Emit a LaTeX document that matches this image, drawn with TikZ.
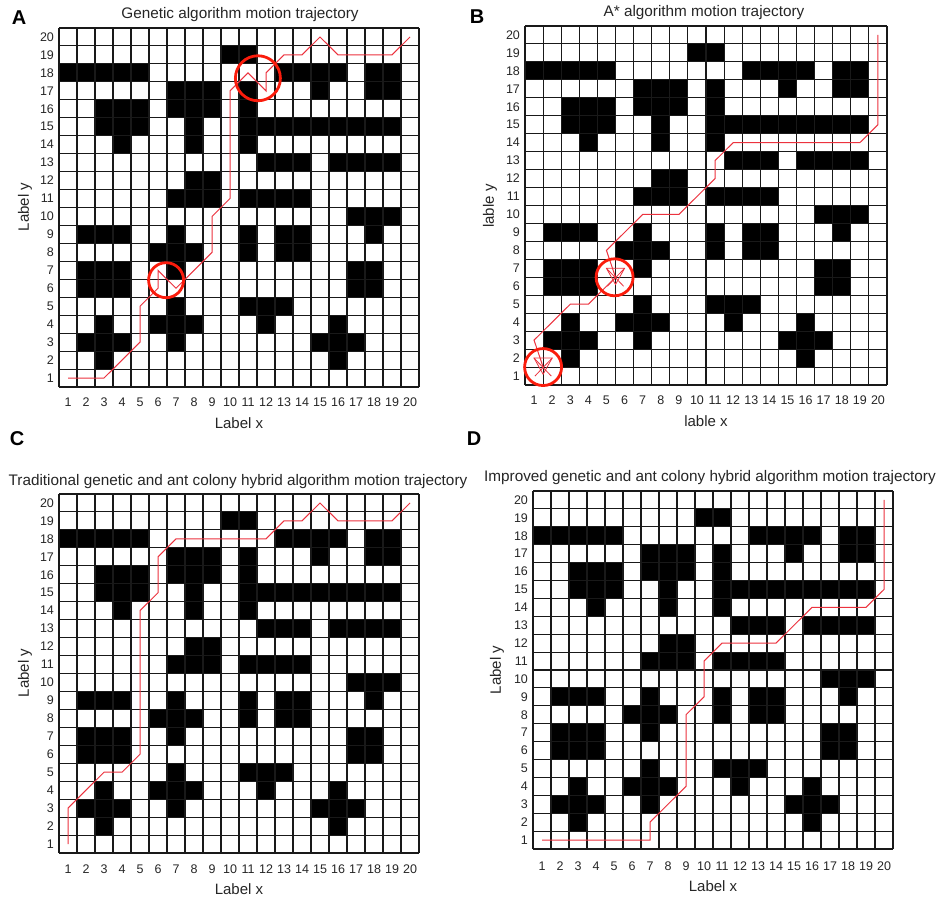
\documentclass[tikz,border=0pt]{standalone}
\usepackage{fontspec}
\setmainfont{Liberation Sans}
\definecolor{txt}{RGB}{38,38,38}
\definecolor{trjred}{RGB}{236,50,62}
\definecolor{circred}{RGB}{250,28,12}
\tikzset{
  gl/.style={line width=1.05pt, draw=black!90},
  trj/.style={line width=1pt, draw=trjred, line join=miter},
  mark circ/.style={line width=2.8pt, draw=circred},
  ticklab/.style={font=\fontsize{12.5}{12.5}\selectfont, text=txt, inner sep=0pt},
  ttl/.style={font=\fontsize{15.3}{16}\selectfont, text=txt, inner sep=0pt},
  axlab/.style={font=\fontsize{15}{15}\selectfont, text=txt, inner sep=0pt},
  plet/.style={font=\fontsize{20}{20}\selectfont\bfseries, text=black, inner sep=0pt},
  starmk/.style={line width=0.8pt, draw=trjred}
}
\newcommand\drawmap{%
  \foreach \r/\a/\b in {19/10/11, 18/1/5, 18/13/16, 18/18/19, 17/7/9, 17/11/11, 17/15/15, 17/18/19,
    16/3/5, 16/7/9, 16/11/11, 15/3/5, 15/8/8, 15/11/19, 14/4/4, 14/8/8, 14/11/11,
    13/12/14, 13/16/19, 12/8/9, 11/7/9, 11/11/14, 10/17/19,
    9/2/4, 9/7/7, 9/11/11, 9/13/14, 9/18/18, 8/6/8, 8/11/11, 8/13/14,
    7/2/4, 7/7/7, 7/17/18, 6/2/4, 6/17/18, 5/7/7, 5/11/13,
    4/3/3, 4/6/8, 4/12/12, 4/16/16, 3/2/4, 3/7/7, 3/15/17, 2/3/3, 2/16/16}
    {\fill[black] (\a-1,\r-1) rectangle (\b,\r);}
  \foreach \i in {0,...,20} {\draw[gl] (\i,0) -- (\i,20); \draw[gl] (0,\i) -- (20,\i);}
}
\newcommand\drawticks[2]{% #1 y-tick x offset, #2 x-tick y offset
  \foreach \i in {1,...,20} {
    \node[ticklab, anchor=east] (yt\i) at (#1, \i-0.5) {\i};
    \node[ticklab] (xt\i) at (\i-0.5, #2) {\i};
  }
}
\newcommand\mystar[1]{%
  \begin{scope}[shift={#1}]
    \draw[starmk] (-0.5,0.45) -- (0.5,0.45) -- (0,-0.45) -- cycle;
    \draw[starmk] (-0.5,0.45) -- (0.45,-0.55) (0.5,0.45) -- (-0.45,-0.55);
  \end{scope}
}
\begin{document}
\begin{tikzpicture}[x=1pt, y=-1pt]
\useasboundingbox (0,0) rectangle (948,899);
\fill[white] (0,0) rectangle (948,899);

% ---------- Panel A ----------
\node[plet] (la) at (19,18) {A};
\node[ttl] (ta) at (240,15) {Genetic algorithm motion trajectory};
\begin{scope}[shift={(59,387)}, x=18pt, y=17.95pt]
  \drawmap
  \drawticks{-0.27}{-0.85}
  \begin{scope}[shift={(-0.5,-0.5)}]
    \draw[trj] (1,1) -- (3,1) -- (5,3) -- (5,5) -- (6,6) -- (6,7) -- (7,6) -- (9,8) -- (9,10)
      -- (10,11) -- (10,17) -- (11,18) -- (12,17) -- (12,18) -- (13,19) -- (14,19) -- (15,20)
      -- (16,19) -- (19,19) -- (20,20);
    \draw[mark circ] (11.55,17.7) circle[radius=22.5pt];
    \draw[mark circ] (6.45,6.45) circle[radius=17.5pt];
  \end{scope}
\end{scope}
\node[axlab] (xa) at (239,423) {Label x};
\node[axlab, rotate=90] (ya) at (25,207) {Label y};

% ---------- Panel B ----------
\node[plet] (lb) at (477,17) {B};
\node[ttl] (tb) at (704,13) {A* algorithm motion trajectory};
\begin{scope}[shift={(525,385)}, x=18.1pt, y=17.95pt]
  \drawmap
  \drawticks{-0.27}{-0.85}
  \begin{scope}[shift={(-0.5,-0.5)}]
    \draw[trj] (1.5,1.5) -- (1,3) -- (3,5) -- (4,5) -- (5.5,6.5) -- (5,8) -- (7,10) -- (9,10)
      -- (11,12) -- (11,13) -- (12,14) -- (19,14) -- (20,15) -- (20,20);
    \mystar{(1.5,1.55)}
    \mystar{(5.5,6.55)}
    \draw[mark circ] (1.5,1.5) circle[radius=18.5pt];
    \draw[mark circ] (5.45,6.5) circle[radius=18.5pt];
  \end{scope}
\end{scope}
\node[axlab] (xb) at (706,421) {lable x};
\node[axlab, rotate=90] (yb) at (490,206) {lable y};

% ---------- Panel C ----------
\node[plet] (lc) at (17,439) {C};
\node[ttl] (tc) at (238,482) {Traditional genetic and ant colony hybrid algorithm motion trajectory};
\begin{scope}[shift={(59,853)}, x=18pt, y=17.95pt]
  \drawmap
  \drawticks{-0.27}{-0.9}
  \begin{scope}[shift={(-0.5,-0.5)}]
    \draw[trj] (1,1) -- (1,3) -- (3,5) -- (4,5) -- (5,6) -- (5,14) -- (6,15) -- (6,17) -- (7,18)
      -- (12,18) -- (13,19) -- (14,19) -- (15,20) -- (16,19) -- (19,19) -- (20,20);
  \end{scope}
\end{scope}
\node[axlab] (xc) at (239,889) {Label x};
\node[axlab, rotate=90] (yc) at (25,673) {Label y};

% ---------- Panel D ----------
\node[plet] (ld) at (474,439) {D};
\node[ttl] (td) at (710,478) {Improved genetic and ant colony hybrid algorithm motion trajectory};
\begin{scope}[shift={(533,849)}, x=18pt, y=17.9pt]
  \drawmap
  \drawticks{-0.27}{-0.95}
  \begin{scope}[shift={(-0.5,-0.5)}]
    \draw[trj] (1,1) -- (7,1) -- (7,2) -- (9,4) -- (9,8) -- (10,9) -- (10,11) -- (11,12)
      -- (14,12) -- (16,14) -- (19,14) -- (20,15) -- (20,20);
  \end{scope}
\end{scope}
\node[axlab] (xd) at (713,886) {Label x};
\node[axlab, rotate=90] (yd) at (497,670) {Label y};
\end{tikzpicture}
\end{document}
